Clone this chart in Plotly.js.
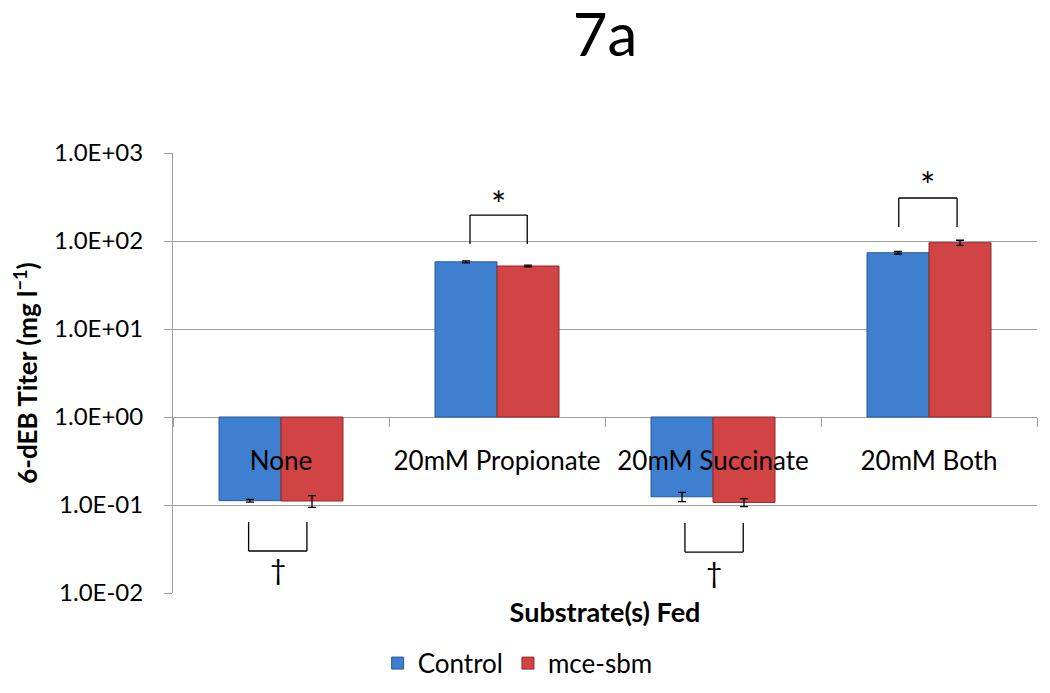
<!DOCTYPE html>
<html>
<head>
<meta charset="utf-8">
<script src="https://cdn.plot.ly/plotly-3.0.1.min.js"></script>
<style>html,body{margin:0;padding:0;background:#fff;}#chart{width:1050px;height:693px;}</style>
</head>
<body>
<div id="chart"></div>
<script>
// ---- data ----
var categories = ["None", "20mM Propionate", "20mM Succinate", "20mM Both"];
var controlValues = [0.112, 58.0, 0.124, 73.6];
var controlErrors = [0.004, 1.6, 0.015, 2.4];
var mceValues = [0.111, 52.0, 0.107, 95.7];
var mceErrors = [0.017, 1.1, 0.011, 6.3];
var seriesNames = ["Control", "mce-sbm"];
var yTickValues = [0.01, 0.1, 1, 10, 100, 1000];
var yTickLabels = ["1.0E-02", "1.0E-01", "1.0E+00", "1.0E+01", "1.0E+02", "1.0E+03"];
var axisCrossing = 1; // bars grow from 1.0E+00
// significance marks: category index, bracket offsets, bracket ends (titer), symbol and its height (titer)
var sigCategory = [0, 1, 2, 3];
var sigLeft = [-0.15, -0.125, -0.13, -0.14];
var sigRight = [0.12, 0.14, 0.14, 0.13];
var sigEnd = [0.0641, 92.5, 0.0624, 144];
var sigBar = [0.030, 197, 0.0292, 308];
var sigSymbol = ["†", "*", "†", "*"];
var sigSymbolAt = [0.0186, 262, 0.0172, 435];

var FONT = "Lato, 'Open Sans', sans-serif";

function barTrace(name, values, errors, fill, edge) {
  return {
    type: "bar",
    name: name,
    x: categories,
    y: values.map(function (v) { return v - axisCrossing; }),
    base: values.map(function () { return axisCrossing; }),
    marker: { color: fill, line: { color: edge, width: 1 } },
    error_y: { type: "data", array: errors, visible: true, color: "#000", thickness: 1.3, width: 4 },
    hoverinfo: "skip"
  };
}

var traces = [
  barTrace(seriesNames[0], controlValues, controlErrors, "#3f7fcf", "#2a5a98"),
  barTrace(seriesNames[1], mceValues, mceErrors, "#d24343", "#8e2b2b")
];

var shapes = [];
var annotations = [];
sigCategory.forEach(function (idx, i) {
  var xl = idx + sigLeft[i], xr = idx + sigRight[i];
  var lineStyle = { color: "#000", width: 1.3 };
  shapes.push({ type: "line", xref: "x", yref: "y", x0: xl, x1: xl, y0: sigEnd[i], y1: sigBar[i], line: lineStyle });
  shapes.push({ type: "line", xref: "x", yref: "y", x0: xr, x1: xr, y0: sigEnd[i], y1: sigBar[i], line: lineStyle });
  shapes.push({ type: "line", xref: "x", yref: "y", x0: xl, x1: xr, y0: sigBar[i], y1: sigBar[i], line: lineStyle });
  var isStar = sigSymbol[i] === "*";
  annotations.push({ xref: "x", yref: "y", x: idx + (sigLeft[i] + sigRight[i]) / 2, y: Math.log10(sigSymbolAt[i]),
    text: sigSymbol[i], showarrow: false, font: { family: FONT, size: isStar ? 36 : 28, color: "#000" } });
});

var layout = {
  width: 1050,
  height: 693,
  paper_bgcolor: "#fff",
  plot_bgcolor: "#fff",
  margin: { l: 173, r: 13, t: 153, b: 100 },
  font: { family: FONT, color: "#000" },
  title: { text: "7a", xref: "paper", x: 0.5, xanchor: "center", yref: "container", y: 0.95, yanchor: "middle",
    font: { family: FONT, size: 60, color: "#000" } },
  barmode: "group",
  bargap: 0.426,
  bargroupgap: 0,
  showlegend: true,
  legend: {
    orientation: "h", xref: "container", yref: "container", x: 0.493, xanchor: "center", y: 0.043, yanchor: "middle",
    font: { family: FONT, size: 26, color: "#000" }, traceorder: "normal"
  },
  xaxis: {
    type: "category",
    anchor: "free",
    position: 0.4,
    showline: false,
    showgrid: false,
    zeroline: false,
    ticks: "outside",
    tickson: "boundaries",
    ticklen: 9,
    tickcolor: "#9f9f9f",
    tickfont: { family: FONT, size: 26, color: "#000" },
    ticklabelstandoff: 26,
    title: { text: "<b>Substrate(s) Fed</b>", font: { family: FONT, size: 27, color: "#000" }, standoff: 128 }
  },
  yaxis: {
    type: "log",
    range: [-2, 3],
    tickvals: yTickValues,
    ticktext: yTickLabels,
    showline: true,
    linecolor: "#9f9f9f",
    linewidth: 1,
    showgrid: true,
    gridcolor: "#9f9f9f",
    gridwidth: 1,
    zeroline: false,
    ticks: "outside",
    ticklen: 8,
    tickcolor: "#9f9f9f",
    tickfont: { family: FONT, size: 24, color: "#000" },
    ticklabelstandoff: 16,
    title: { text: "<b>6-dEB Titer (mg l<sup>−1</sup>)</b>", font: { family: FONT, size: 26, color: "#000" }, standoff: 8 }
  },
  shapes: shapes,
  annotations: annotations
};

Plotly.newPlot("chart", traces, layout, { displayModeBar: false, staticPlot: true });
</script>
</body>
</html>
